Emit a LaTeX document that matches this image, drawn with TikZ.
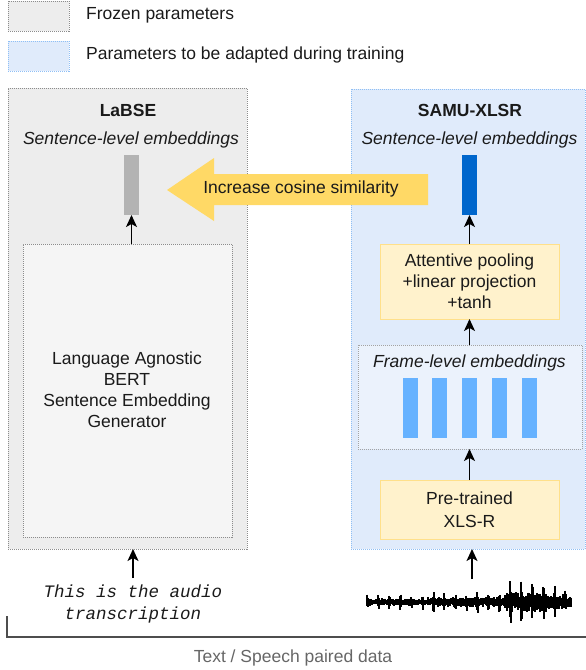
\documentclass[tikz,border=0pt]{standalone}
\usepackage{fontspec}
\setmainfont{Liberation Sans}
\setmonofont{Liberation Mono}
\usetikzlibrary{arrows.meta}
\definecolor{grayFill}{HTML}{EDEDED}
\definecolor{genFill}{HTML}{F5F5F5}
\definecolor{grayDraw}{HTML}{8C8C8C}
\definecolor{blueFill}{HTML}{E0EBFB}
\definecolor{blueDraw}{HTML}{8FBFF5}
\definecolor{frameFill}{HTML}{EBF2FC}
\definecolor{yFill}{HTML}{FFF2CC}
\definecolor{yDraw}{HTML}{FFE08A}
\definecolor{arrowFill}{HTML}{FFD966}
\definecolor{barGray}{HTML}{B3B3B3}
\definecolor{barDark}{HTML}{0066CC}
\definecolor{barLight}{HTML}{66B2FF}
\definecolor{bracketCol}{HTML}{4D4D4D}
\definecolor{noteCol}{HTML}{666666}
\definecolor{txtCol}{HTML}{1A1A1A}
\begin{document}
\begin{tikzpicture}[x=1pt,y=-1pt,
  font=\fontsize{17.5}{21}\selectfont, text=txtCol,
  box/.style={anchor=north west, inner sep=0pt, outer sep=0pt},
  frozen/.style={box, fill=grayFill, draw=grayDraw, line width=0.9pt, dash pattern=on 1pt off 1pt},
  adapt/.style={box, fill=blueFill, draw=blueDraw, line width=0.9pt, dash pattern=on 1pt off 1pt},
  ybox/.style={box, fill=yFill, draw=yDraw, line width=1pt, align=center},
  bar/.style={box, minimum width=15pt, minimum height=60pt},
  arr/.style={-{Stealth[length=12pt,width=11pt,inset=3pt]}, line width=1.3pt, black},
  lbl/.style={inner sep=0pt, anchor=center}
]
\useasboundingbox (0,0) rectangle (586,670);

% legend
\node[frozen, minimum width=61pt, minimum height=30pt] (lg1) at (8,1) {};
\node[adapt, minimum width=61pt, minimum height=30pt] (lg2) at (8,41) {};
\node[lbl, anchor=west] (lt1) at (86,15) {Frozen parameters};
\node[lbl, anchor=west] (lt2) at (86,55) {Parameters to be adapted during training};

% LaBSE
\node[frozen, minimum width=239pt, minimum height=461pt] (labse) at (8,88) {};
\node[lbl, font=\fontsize{17.5}{21}\selectfont\bfseries] (labsetitle) at (128,110) {LaBSE};
\node[lbl, font=\fontsize{17.5}{21}\selectfont\itshape] (labsesent) at (131,140) {Sentence-level embeddings};
\node[bar, fill=barGray] (gbar) at (124,155) {};
\node[frozen, fill=genFill, minimum width=209pt, minimum height=293pt] (gen) at (23,244) {};
\node[lbl, align=center] (gentext) at (127,390) {Language Agnostic\\BERT\\Sentence Embedding\\Generator};
\draw[arr] (gen.north -| gbar.south) -- (gbar.south);

% SAMU-XLSR
\node[adapt, minimum width=234pt, minimum height=460pt] (samu) at (351,89) {};
\node[lbl, font=\fontsize{17.5}{21}\selectfont\bfseries] (samutitle) at (470,110) {SAMU-XLSR};
\node[lbl, font=\fontsize{17.5}{21}\selectfont\itshape] (samusent) at (469.5,140) {Sentence-level embeddings};
\node[bar, fill=barDark] (bbar) at (462,155) {};
\node[ybox, minimum width=179pt, minimum height=75pt] (att) at (380,244) {};
\node[lbl, align=center] (atttext) at (att.center) {Attentive pooling\\+linear projection\\+tanh};
\node[box, fill=frameFill, draw=grayDraw!80, line width=0.9pt, dash pattern=on 1pt off 1pt, minimum width=224pt, minimum height=104pt] (frame) at (358,345) {};
\node[lbl, font=\fontsize{17.5}{21}\selectfont\itshape] (frametitle) at (469.5,363) {Frame-level embeddings};
\foreach \bx [count=\k] in {403,432,462,492,522}{
  \node[bar, fill=barLight] (fbar\k) at (\bx,378) {};
}
\node[ybox, minimum width=179pt, minimum height=59pt] (xls) at (380,480) {};
\node[lbl, align=center, font=\fontsize{17.5}{23}\selectfont] (xlstext) at (xls.center) {Pre-trained\\XLS-R};

\draw[arr] (att.north -| bbar.south) -- (bbar.south);
\draw[arr] (frame.north -| att.south) -- (att.south);
\draw[arr] (xls.north) -- (frame.south -| xls.north);

% cosine arrow
\fill[arrowFill] (167,190) -- (214,158) -- (214,174) -- (428,174) -- (428,205) -- (214,205) -- (214,221) -- cycle;
\node[lbl] (cos) at (301,189) {Increase cosine similarity};

% inputs
\node[lbl, align=center, font=\fontsize{17.5}{22}\ttfamily\itshape] (txt) at (133,604) {This is the audio\\transcription};
\coordinate (txttop) at (133,578);
\draw[arr] (txttop) -- (labse.south -| txttop);

% waveform
\pgfmathsetseed{7}
\coordinate (wavetop) at (472,579);
\draw[line width=3pt, black] (367,602) -- (572,602);
\foreach \i in {0,...,204}{
  \pgfmathsetmacro{\xx}{367+\i}
  \pgfmathsetmacro{\env}{\i<138 ? (\i<60 ? 8 : 11) : (\i<180 ? 22 : 17)}
  \pgfmathsetmacro{\spk}{mod(\i,11)<2 ? 1 : 0.45}
  \pgfmathsetmacro{\amp}{\env*\spk*(0.35+0.65*rnd)}
  \pgfmathsetmacro{\ampb}{\env*\spk*(0.35+0.65*rnd)}
  \draw[line width=1.1pt, black] (\xx,602-\amp) -- (\xx,602+\ampb);
}
\draw[arr] (wavetop) -- (samu.south -| wavetop);

% bracket
\coordinate (brtop) at (7,616);
\coordinate (brend) at (586,637);
\draw[bracketCol, line width=2.4pt] (brtop) |- (brend);
\node[lbl, text=noteCol] (pair) at (293,658) {Text / Speech paired data};
\end{tikzpicture}
\end{document}
